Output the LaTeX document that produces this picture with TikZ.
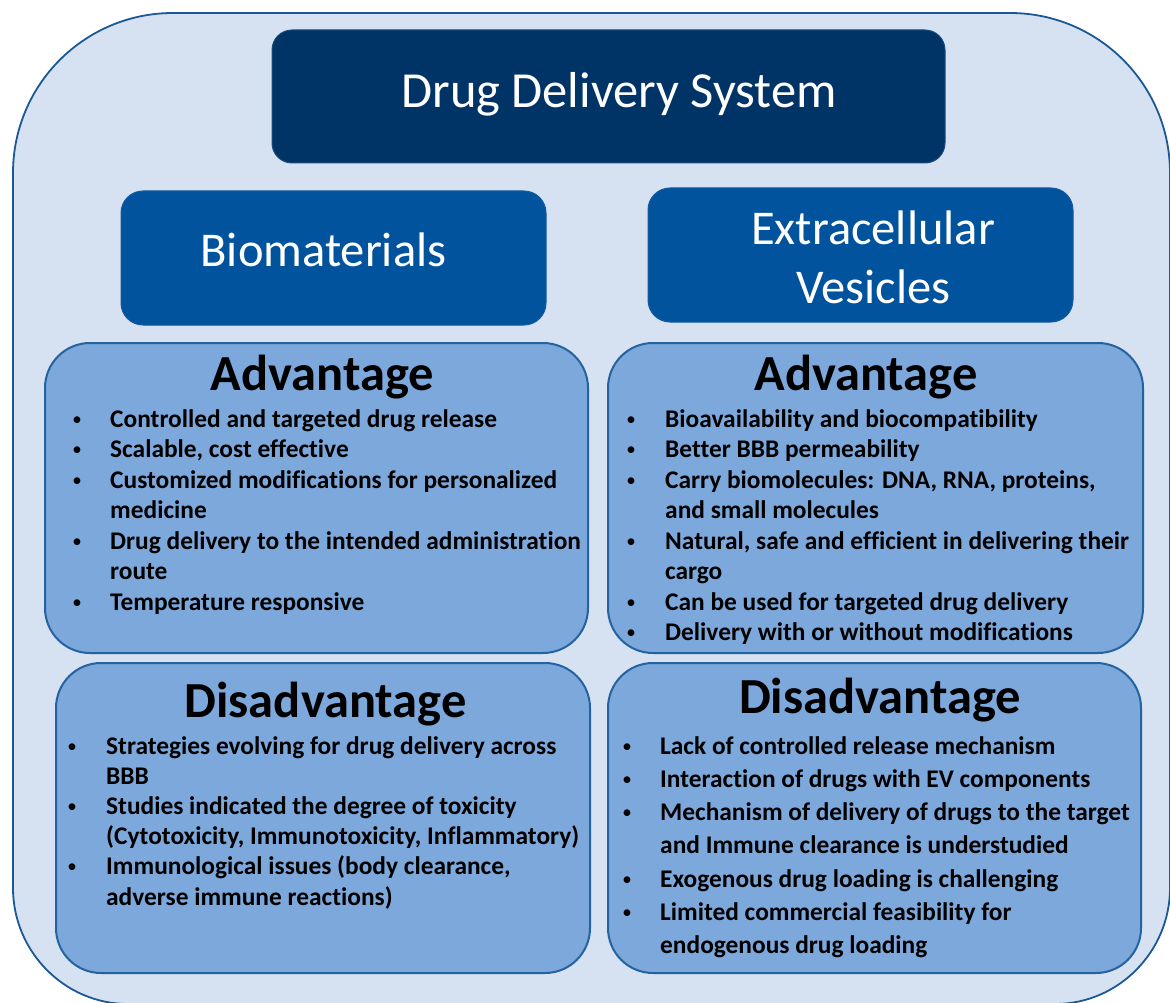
\documentclass[tikz,border=0pt]{standalone}
\usepackage{fontspec}
\setmainfont{Carlito}[Ligatures={NoCommon}]
\definecolor{ofill}{RGB}{214,226,241}
\definecolor{oedge}{RGB}{28,88,150}
\definecolor{navy}{RGB}{0,52,102}
\definecolor{navyedge}{RGB}{30,75,125}
\definecolor{midblue}{RGB}{0,83,156}
\definecolor{midedge}{RGB}{20,90,160}
\definecolor{panelfill}{RGB}{124,168,220}
\definecolor{paneledge}{RGB}{36,98,160}
\begin{document}
\begin{tikzpicture}[x=1pt,y=-1pt,
  outerbox/.style={draw=oedge, line width=1.8pt, fill=ofill},
  darkbox/.style={rectangle, rounded corners=20pt, fill=navy, draw=navyedge, line width=1pt},
  midbox/.style={rectangle, rounded corners=22pt, fill=midblue, draw=midedge, line width=1pt},
  panel/.style={rectangle, rounded corners=45pt, fill=panelfill, draw=paneledge, line width=2pt},
  wtitle/.style={font=\fontsize{50.5}{61}\selectfont, text=white, anchor=base, inner sep=0pt},
  wsub/.style={font=\fontsize{48.5}{59}\selectfont, text=white, anchor=base, inner sep=0pt},
  head/.style={font=\fontsize{50.5}{61}\selectfont\bfseries, text=black, anchor=base, inner sep=0pt},
  item/.style={font=\fontsize{25.4}{30.5}\selectfont\bfseries, text=black, anchor=base west, inner sep=0pt},
  bul/.style={font=\fontsize{19}{30.5}\selectfont, text=black, anchor=base, inner sep=0pt}
]
\useasboundingbox (0,0) rectangle (1170,1003);
% outer frame
\path[outerbox] (13,173) .. controls (13,84.6) and (84.6,13) .. (173,13)
  -- (1010,13) .. controls (1098.4,13) and (1170,84.6) .. (1170,173)
  -- (1170,888) .. controls (1170,951.5) and (1118.5,1004) .. (1055,1004)
  -- (128,1004) .. controls (64.5,1004) and (13,951.5) .. (13,888) -- cycle;

% title
\node[darkbox, minimum width=673pt, minimum height=133pt] (title) at (608.5,96.5) {};
\node[wtitle] (titletext) at (619,108) {Drug Delivery System};

% sub boxes
\node[midbox, minimum width=425pt, minimum height=134pt] (bio) at (333.5,258) {};
\node[wsub] (biotext) at (323.5,266) {Biomaterials};
\node[midbox, minimum width=425pt, minimum height=134pt] (ev) at (860.5,255) {};
\node[wsub] (evtext1) at (873,244) {Extracellular};
\node[wsub] (evtext2) at (873.5,303) {Vesicles};

% panels
\node[panel, minimum width=543pt, minimum height=310pt] (advL) at (316.5,498) {};
\node[panel, minimum width=535pt, minimum height=310pt] (advR) at (875.5,498) {};
\node[panel, minimum width=534pt, minimum height=310pt] (disL) at (323,818) {};
\node[panel, minimum width=533pt, minimum height=310pt] (disR) at (874.5,818) {};

\node[head] (advLh) at (322.5,390) {Advantage};
\node[head] (advRh) at (866,390) {Advantage};
\node[head] (disLh) at (325.5,717) {Disadvantage};
\node[head] (disRh) at (880,713) {Disadvantage};

% left advantage
\foreach \b/\t [count=\i from 0] in {
  1/Controlled and targeted drug release,
  {1/Scalable, cost effective},
  1/Customized modifications for personalized,
  0/medicine,
  1/Drug delivery to the intended administration,
  0/route,
  1/Temperature responsive}{
  \node[item] (aLt\i) at (110,427+30.5*\i) {\t};
  \ifnum\b=1 \node[bul] (aLb\i) at (77,425+30.5*\i) {•};\fi
}
% right advantage
\foreach \b/\t [count=\i from 0] in {
  1/Bioavailability and biocompatibility,
  1/Better BBB permeability,
  {1/Carry biomolecules: DNA, RNA, proteins,},
  0/and small molecules,
  {1/Natural, safe and efficient in delivering their},
  0/cargo,
  1/Can be used for targeted drug delivery,
  1/Delivery with or without modifications}{
  \node[item] (aRt\i) at (665,427+30.5*\i) {\t};
  \ifnum\b=1 \node[bul] (aRb\i) at (631,425+30.5*\i) {•};\fi
}
% left disadvantage
\foreach \b/\t [count=\i from 0] in {
  1/Strategies evolving for drug delivery across,
  0/BBB,
  1/Studies indicated the degree of toxicity,
  {0/(Cytotoxicity, Immunotoxicity, Inflammatory)},
  {1/Immunological issues (body clearance,},
  0/adverse immune reactions)}{
  \node[item] (dLt\i) at (106,754+30.2*\i) {\t};
  \ifnum\b=1 \node[bul] (dLb\i) at (72,752+30.2*\i) {•};\fi
}
% right disadvantage
\foreach \b/\t [count=\i from 0] in {
  1/Lack of controlled release mechanism,
  1/Interaction of drugs with EV components,
  1/Mechanism of delivery of drugs to the target,
  0/and Immune clearance is understudied,
  1/Exogenous drug loading is challenging,
  1/Limited commercial feasibility for,
  0/endogenous drug loading}{
  \node[item] (dRt\i) at (660,754+33.3*\i) {\t};
  \ifnum\b=1 \node[bul] (dRb\i) at (627,752+33.3*\i) {•};\fi
}
\end{tikzpicture}
\end{document}
